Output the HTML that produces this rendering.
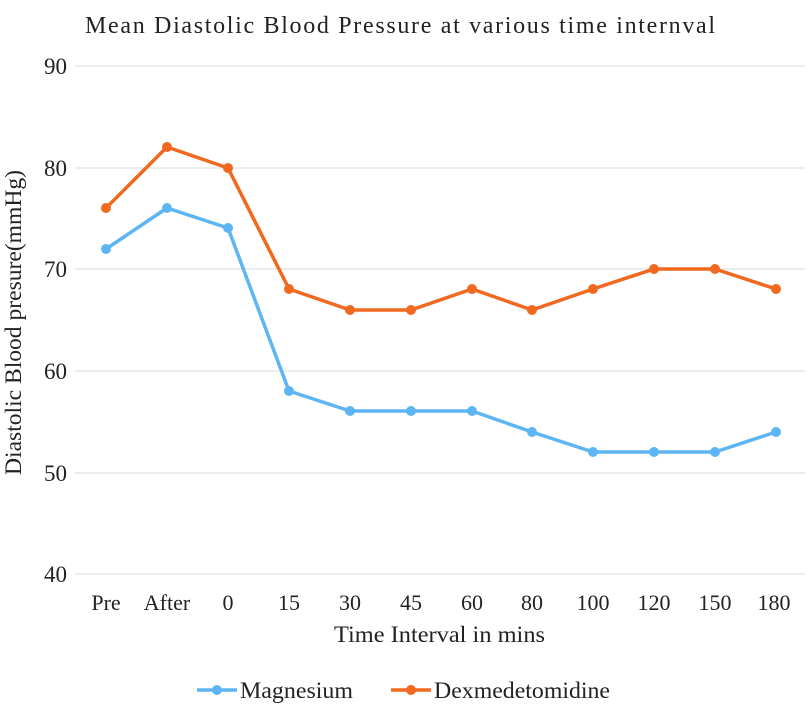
<!DOCTYPE html>
<html><head><meta charset="utf-8"><style>
body{margin:0;background:#fff}
svg text{font-family:"Liberation Serif",serif;fill:#222}
</style></head><body>
<svg width="808" height="713" xmlns="http://www.w3.org/2000/svg">
<text x="85" y="33" font-size="24" textLength="630" lengthAdjust="spacing">Mean Diastolic Blood Pressure at various  time internval</text>
<g stroke="#d9d9d9" stroke-width="1">
<line x1="75" y1="66" x2="805" y2="66"/>
<line x1="75" y1="168" x2="805" y2="168"/>
<line x1="75" y1="269" x2="805" y2="269"/>
<line x1="75" y1="371" x2="805" y2="371"/>
<line x1="75" y1="473" x2="805" y2="473"/>
<line x1="75" y1="574" x2="805" y2="574"/>
</g>
<g font-size="23" text-anchor="end">
<text x="67" y="74">90</text><text x="67" y="176">80</text><text x="67" y="277">70</text>
<text x="67" y="379">60</text><text x="67" y="481">50</text><text x="67" y="582">40</text>
</g>
<g font-size="22" text-anchor="middle">
<text x="106" y="610">Pre</text><text x="167" y="610">After</text><text x="228" y="610">0</text>
<text x="289" y="610">15</text><text x="350" y="610">30</text><text x="411" y="610">45</text>
<text x="472" y="610">60</text><text x="532" y="610">80</text><text x="593" y="610">100</text>
<text x="654" y="610">120</text><text x="715" y="610">150</text><text x="774" y="610">180</text>
</g>
<text x="334" y="642" font-size="23" textLength="211" lengthAdjust="spacingAndGlyphs">Time Interval in mins</text>
<text transform="translate(21,475) rotate(-90)" font-size="23" textLength="305" lengthAdjust="spacingAndGlyphs">Diastolic Blood presure(mmHg)</text>
<polyline fill="none" stroke="#5db5f3" stroke-width="3.5" stroke-linejoin="round" points="106,249 167,208 228,228 289,391 350,411 411,411 472,411 532,432 593,452 654,452 715,452 776,432"/>
<polyline fill="none" stroke="#f0691f" stroke-width="3.5" stroke-linejoin="round" points="106,208 167,147 228,168 289,289 350,310 411,310 472,289 532,310 593,289 654,269 715,269 776,289"/>
<g fill="#5db5f3">
<circle cx="106" cy="249" r="5"/><circle cx="167" cy="208" r="5"/><circle cx="228" cy="228" r="5"/><circle cx="289" cy="391" r="5"/><circle cx="350" cy="411" r="5"/><circle cx="411" cy="411" r="5"/><circle cx="472" cy="411" r="5"/><circle cx="532" cy="432" r="5"/><circle cx="593" cy="452" r="5"/><circle cx="654" cy="452" r="5"/><circle cx="715" cy="452" r="5"/><circle cx="776" cy="432" r="5"/>
</g>
<g fill="#f0691f">
<circle cx="106" cy="208" r="5"/><circle cx="167" cy="147" r="5"/><circle cx="228" cy="168" r="5"/><circle cx="289" cy="289" r="5"/><circle cx="350" cy="310" r="5"/><circle cx="411" cy="310" r="5"/><circle cx="472" cy="289" r="5"/><circle cx="532" cy="310" r="5"/><circle cx="593" cy="289" r="5"/><circle cx="654" cy="269" r="5"/><circle cx="715" cy="269" r="5"/><circle cx="776" cy="289" r="5"/>
</g>
<line x1="197" y1="690" x2="237" y2="690" stroke="#5db5f3" stroke-width="3.5"/>
<circle cx="217" cy="690" r="5" fill="#5db5f3"/>
<text x="240" y="698" font-size="23" textLength="113" lengthAdjust="spacingAndGlyphs">Magnesium</text>
<line x1="391" y1="690" x2="431" y2="690" stroke="#f0691f" stroke-width="3.5"/>
<circle cx="411" cy="690" r="5" fill="#f0691f"/>
<text x="434" y="698" font-size="23" textLength="176" lengthAdjust="spacingAndGlyphs">Dexmedetomidine</text>
</svg>
</body></html>
